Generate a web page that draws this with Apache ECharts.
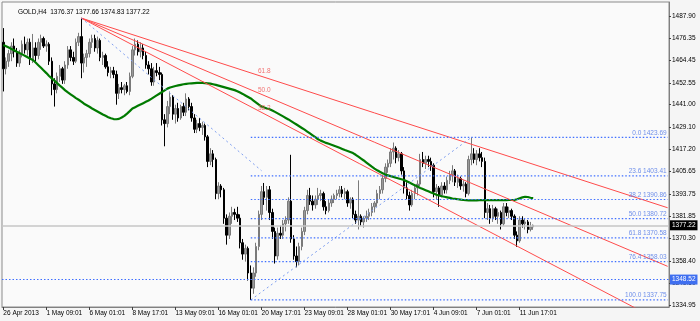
<!DOCTYPE html>
<html>
<head>
<meta charset="utf-8">
<script src="https://cdn.jsdelivr.net/npm/echarts@6/dist/echarts.min.js"></script>
<style>html,body{margin:0;padding:0;background:#f5f5f5}#c{width:700px;height:321px}</style>
</head>
<body>
<div id="c"></div>
<script>
// ---------- data ----------
const chartTitle = 'GOLD,H4  1376.37 1377.66 1374.83 1377.22';
const xTickLabels = ['26 Apr 2013','1 May 09:01','6 May 01:01','8 May 17:01','13 May 09:01','16 May 01:01','20 May 17:01','23 May 09:01','28 May 01:01','30 May 17:01','4 Jun 09:01','7 Jun 01:01','11 Jun 17:01'];
const xTickStep = 16;
const slotCount = 248;
const yTickLabels = [1487.90,1476.35,1464.45,1452.55,1441.00,1429.10,1417.20,1405.65,1393.75,1381.85,1370.30,1358.40,1346.50,1334.95];
const yMin = 1334.02, yMax = 1495.30;

// [open, high, low, close]
const bars = [
[1474,1481.5,1448,1460],[1460,1466,1457,1464],[1464,1470,1461,1468],[1468,1474,1464,1472],[1472,1476,1466,1469],[1469,1471,1461,1463],[1463,1470,1461,1468],[1468,1475,1466,1473],[1473,1477,1468,1470],[1470,1476,1467,1474],
[1474,1476,1462,1465],[1465,1478.4,1463,1471],[1471,1474,1464,1467],[1467,1476,1465,1474],[1474,1478,1470,1476],[1476,1477,1471,1472],[1472,1475,1469,1473],[1473,1474,1462,1464],[1464,1466,1446,1452],[1452,1455,1440,1449],
[1449,1458,1447,1456],[1456,1462,1453,1460],[1460,1461,1452,1454],[1454,1464,1452,1462],[1462,1472,1460,1470],[1470,1472,1464,1466],[1466,1469,1462,1464],[1464,1476,1463,1474],[1474,1479,1472,1477],[1477,1486.8,1455,1463],
[1463,1468,1458,1466],[1466,1470,1461,1468],[1468,1476,1466,1474],[1474,1478,1471,1476],[1476,1478,1469,1471],[1471,1477,1468,1475],[1475,1476,1464,1466],[1466,1469,1462,1467],[1467,1468,1460,1461],[1461,1464,1456,1458],
[1458,1461,1455,1459],[1459,1461,1455,1457],[1457,1459,1441,1447],[1447,1452,1444,1450],[1450,1453,1447,1449],[1449,1452,1446,1451],[1451,1453,1447,1448],[1448,1458,1446,1456],[1456,1472,1455,1470],[1470,1476,1467,1473],
[1473,1475,1467,1469],[1469,1474,1466,1471],[1471,1473,1465,1467],[1467,1469,1460,1462],[1462,1464,1457,1460],[1460,1463,1451,1453],[1453,1461,1451,1459],[1459,1463,1456,1458],[1458,1461,1454,1457],[1457,1458,1430,1433],
[1433,1436,1419,1431],[1431,1443,1429,1440],[1440,1448,1436,1445],[1445,1446,1433,1436],[1436,1441,1431,1439],[1439,1442,1432,1434],[1434,1441,1433,1440],[1440,1442,1435,1437],[1437,1447,1435,1444],[1444,1445,1438,1440],
[1440,1442,1432,1434],[1434,1436,1426,1428],[1428,1433,1426,1431],[1431,1434,1427,1429],[1429,1432,1425,1430],[1430,1431,1422,1424],[1424,1425,1408,1411],[1411,1418,1409,1415],[1415,1417,1408,1412],[1412,1413,1391,1394],
[1394,1400,1391,1398],[1398,1399,1392,1396],[1396,1397,1378,1381],[1381,1383,1367,1372],[1372,1384,1370,1382],[1382,1387,1378,1384],[1384,1386,1380,1383],[1383,1387,1379,1381],[1381,1383,1365,1368],[1368,1370,1359,1362],
[1362,1367,1358,1365],[1365,1366,1348,1352],[1352,1356,1337.75,1344],[1344,1355,1341,1352],[1352,1368,1350,1366],[1366,1385,1364,1383],[1383,1398,1380,1395],[1395,1399.6,1388,1392],[1392,1398,1385,1396],[1396,1398,1380,1384],
[1384,1386,1370,1374],[1374,1376,1357,1361],[1361,1376,1359,1373],[1373,1377,1370,1372],[1372,1380,1370,1378],[1378,1382,1374,1380],[1380,1392,1378,1390],[1390,1414.5,1368,1370],[1370,1372,1359,1361],[1361,1366,1355,1358],
[1358,1368,1356,1366],[1366,1376,1364,1374],[1374,1387,1372,1385],[1385,1396,1383,1393],[1393,1397,1388,1390],[1390,1393,1385,1388],[1388,1393,1386,1391],[1391,1397,1388,1393],[1393,1396,1390,1394],[1394,1395,1385,1387],
[1387,1390,1383,1385],[1385,1391,1384,1389],[1389,1393,1387,1391],[1391,1394,1389,1393],[1393,1396,1391,1394],[1394,1398,1392,1396],[1396,1398,1392,1394],[1394,1397,1391,1395],[1395,1396,1387,1389],[1389,1392,1386,1391],
[1391,1392,1381,1383],[1383,1385,1378,1380],[1380,1401,1375,1382],[1382,1383,1377,1379],[1379,1382,1376,1381],[1381,1385,1379,1382],[1382,1386,1380,1384],[1384,1389,1382,1387],[1387,1390,1384,1389],[1389,1396,1387,1394],
[1394,1398,1391,1396],[1396,1404,1394,1402],[1402,1410,1400,1408],[1408,1412,1405,1410],[1410,1418,1408,1416],[1416,1421,1412,1418],[1418,1419,1410,1413],[1413,1417,1411,1415],[1415,1416,1404,1406],[1406,1408,1394,1397],
[1397,1400,1391,1393],[1393,1395,1385,1388],[1388,1396,1387,1394],[1394,1399,1391,1397],[1397,1401,1393,1399],[1399,1415,1398,1412],[1412,1416,1408,1410],[1410,1414,1407,1412],[1412,1414,1408,1411],[1411,1413,1406,1409],
[1409,1410,1392,1395],[1395,1399,1391,1397],[1397,1398,1387,1393],[1393,1400,1392,1398],[1398,1400,1394,1396],[1396,1403,1394,1401],[1401,1406,1399,1404],[1404,1409,1400,1406],[1406,1407,1398,1400],[1400,1404,1397,1402],
[1402,1403,1396,1398],[1398,1401,1395,1399],[1399,1400,1392,1394],[1394,1414,1393,1412],[1412,1423.69,1409,1415],[1415,1418,1410,1412],[1412,1417,1409,1415],[1415,1418,1411,1413],[1413,1416,1408,1411],[1411,1413,1381,1384],
[1384,1389,1380,1386],[1386,1388,1378,1381],[1381,1388,1379,1386],[1386,1387,1380,1382],[1382,1386,1378,1384],[1384,1385,1375,1378],[1378,1389,1377,1387],[1387,1389,1382,1384],[1384,1387,1381,1385],[1385,1386,1380,1382],
[1382,1383,1370,1372],[1372,1374,1365.8,1369],[1369,1382,1368,1380],[1380,1382,1376,1378],[1378,1381,1375,1379],[1379,1380,1373,1375],[1375,1379,1374,1376.37],[1376.37,1377.66,1374.83,1377.22]
];

const maValues = [
1472.6,1471.9,1471.2,1470.5,1469.8,1469.0,1468.3,1467.6,1466.9,1466.1,
1465.3,1464.6,1463.3,1461.9,1460.5,1459.1,1457.7,1456.2,1454.9,1453.7,
1452.4,1451.1,1449.9,1448.6,1447.5,1446.5,1445.5,1444.5,1443.6,1442.6,
1441.5,1440.7,1439.9,1439.0,1438.2,1437.4,1436.6,1435.8,1435.1,1434.4,
1433.8,1433.4,1433.3,1433.5,1434.2,1435.1,1436.3,1437.6,1439.0,1439.7,
1440.4,1441.1,1441.8,1442.5,1443.2,1444.1,1445.0,1445.9,1446.8,1447.7,
1448.6,1449.5,1450.1,1450.5,1450.9,1451.2,1451.5,1451.8,1452.0,1452.2,
1452.3,1452.4,1452.5,1452.5,1452.5,1452.4,1452.3,1452.1,1451.8,1451.5,
1451.1,1450.7,1450.3,1449.9,1449.5,1449.1,1448.7,1448.1,1447.4,1446.7,
1445.9,1445.1,1444.3,1443.2,1442.1,1441.0,1440.0,1439.5,1439.0,1438.6,
1437.9,1437.2,1436.4,1435.6,1434.8,1434.0,1433.2,1432.3,1431.4,1430.5,
1429.6,1428.7,1427.8,1426.8,1425.8,1424.8,1423.8,1422.7,1422.0,1421.4,
1420.8,1420.3,1419.8,1419.3,1418.8,1418.2,1417.6,1417.0,1416.5,1416.0,
1415.4,1414.5,1413.5,1412.5,1411.5,1410.4,1409.3,1408.2,1407.2,1406.3,
1405.5,1404.8,1404.0,1403.6,1403.2,1402.8,1402.4,1402.0,1401.6,1401.2,
1400.5,1399.8,1399.1,1398.4,1397.7,1397.0,1396.4,1395.8,1395.2,1394.6,
1394.0,1393.4,1393.0,1392.6,1392.3,1392.0,1391.7,1391.4,1391.2,1391.0,
1390.8,1390.6,1390.5,1390.4,1390.4,1390.4,1390.4,1390.5,1390.5,1390.5,
1390.5,1390.5,1390.5,1390.5,1390.5,1390.5,1390.5,1390.5,1390.6,1390.6,
1390.6,1391.0,1391.5,1392.0,1392.3,1392.2,1391.8,1391.6
];

// Fibonacci fan: [barIndex, price] of point 1 and point 2
const fanPoint1 = [29, 1486.8];
const fanPoint2 = [96, 1406.1];
const fanLevels = [61.8, 50.0, 38.2];
const fanLabelBar = 97;
// Fibonacci retracement: high and low anchor points
const fibHigh = [174, 1423.69];
const fibLow = [92, 1337.75];
const fibLevels = [0.0, 23.6, 38.2, 50.0, 61.8, 76.4, 100.0];
const hLinePrice = 1348.52;
const lastPrice = 1377.22;

// ---------- build ----------
const FONT = 'Liberation Sans';
const FS = 6.5;
const categories = Array.from({length: slotCount}, (_, i) => String(i));
const lastSlot = slotCount - 1;
const candleData = bars.map(b => [b[0], b[3], b[2], b[1]]);

function fanPrice(level, i) {
  const d = fanPoint1[1] - fanPoint2[1];
  const target = fanPoint2[1] + level / 100 * d;
  return fanPoint1[1] + (i - fanPoint1[0]) * (target - fanPoint1[1]) / (fanPoint2[0] - fanPoint1[0]);
}
const fibRange = fibHigh[1] - fibLow[1];
const fibPrice = l => fibHigh[1] - l / 100 * fibRange;

const fanColor = '#ff4b4b';
const fibColor = '#3f6fff';
const fibDash = [1.5, 2];

const series = [];
series.push({
  type: 'candlestick', data: candleData, barWidth: 2, z: 2,
  itemStyle: { color: '#9a9a9a', color0: '#000000', borderColor: '#7a7a7a', borderColor0: '#000000', borderWidth: 1 },
  markLine: {
    silent: true, symbol: ['none', 'none'], animation: false,
    data: [
      { yAxis: lastPrice, lineStyle: { color: '#c6c6c6', width: 1.5, type: 'solid' },
        label: { show: true, position: 'end', distance: 1, formatter: lastPrice.toFixed(2), color: '#fff', backgroundColor: '#000', padding: [2, 2, 1, 2], fontSize: FS, fontFamily: FONT } },
      { yAxis: hLinePrice, lineStyle: { color: fibColor, width: 1.2, type: fibDash },
        label: { show: true, position: 'end', distance: 1, formatter: hLinePrice.toFixed(2), color: '#fff', backgroundColor: '#3f6ff0', padding: [2, 2, 1, 2], fontSize: FS, fontFamily: FONT } }
    ]
  }
});
series.push({
  type: 'line', data: maValues, symbol: 'none', z: 3, silent: true,
  lineStyle: { color: '#007a00', width: 2.2 }
});
// fan lines
fanLevels.forEach(l => {
  series.push({
    type: 'line', symbol: 'none', z: 4, silent: true,
    data: [[fanPoint1[0], fanPoint1[1]], [lastSlot, fanPrice(l, lastSlot)]],
    lineStyle: { color: fanColor, width: 1 }
  });
});
// fan trend line (dotted)
series.push({
  type: 'line', symbol: 'none', z: 4, silent: true,
  data: [fanPoint1, fanPoint2],
  lineStyle: { color: '#7f9ff0', width: 1, type: [2, 3] }
});
// fib retracement trend line
series.push({
  type: 'line', symbol: 'none', z: 4, silent: true,
  data: [fibLow, fibHigh],
  lineStyle: { color: '#7f9ff0', width: 1, type: [2, 3] }
});
// fib levels
fibLevels.forEach(l => {
  series.push({
    type: 'line', symbol: 'none', z: 4, silent: true,
    data: [[fibLow[0], fibPrice(l)], [lastSlot, fibPrice(l)]],
    lineStyle: { color: fibColor, width: 1.2, type: fibDash }
  });
});
// labels
series.push({
  type: 'scatter', symbolSize: 0.1, z: 5, silent: true,
  itemStyle: { color: 'rgba(0,0,0,0)' },
  data: fanLevels.map(l => ({ value: [fanLabelBar, fanPrice(l, fanLabelBar)],
    label: { show: true, position: 'top', distance: 2, formatter: l.toFixed(1), color: '#f05050', fontSize: FS, fontFamily: FONT } }))
    .concat(fibLevels.map(l => ({ value: [lastSlot, fibPrice(l)],
    label: { show: true, position: 'left', distance: 1, offset: [0, -4.5], formatter: l.toFixed(1) + ' ' + fibPrice(l).toFixed(2), color: '#4a73e6', fontSize: FS, fontFamily: FONT } })))
});

const option = {
  animation: false,
  backgroundColor: '#f5f5f5',
  textStyle: { fontFamily: FONT },
  title: { text: chartTitle, left: 13, top: 4, textStyle: { fontSize: FS, fontWeight: 'normal', color: '#000', fontFamily: FONT } },
  grid: { left: 2, right: 31, top: 2, bottom: 14, show: true, backgroundColor: '#fafafa', borderColor: '#8a8a8a', borderWidth: 1 },
  xAxis: {
    type: 'category', data: categories, boundaryGap: true,
    axisLine: { show: true, lineStyle: { color: '#808080' } },
    axisTick: { show: true, alignWithLabel: true, length: 3, lineStyle: { color: '#404040' },
      interval: i => i % xTickStep === 0 && i / xTickStep < xTickLabels.length },
    axisLabel: { show: true, align: 'left', margin: 3, fontSize: FS, color: '#000', fontFamily: FONT,
      interval: i => i % xTickStep === 0 && i / xTickStep < xTickLabels.length,
      formatter: (v, i) => xTickLabels[Math.round(Number(v) / xTickStep)] || '' },
    splitLine: { show: false }
  },
  yAxis: {
    type: 'value', position: 'right', min: yMin, max: yMax, scale: true,
    axisLine: { show: true, lineStyle: { color: '#808080' } },
    axisTick: { show: true, length: 2, lineStyle: { color: '#404040' }, customValues: yTickLabels },
    axisLabel: { show: true, margin: 3, fontSize: FS, color: '#000', fontFamily: FONT, customValues: yTickLabels,
      formatter: v => Number(v).toFixed(2) },
    splitLine: { show: false }
  },
  series: series
};
const chart = echarts.init(document.getElementById('c'), null, { renderer: 'canvas' });
chart.setOption(option);
</script>
</body>
</html>
